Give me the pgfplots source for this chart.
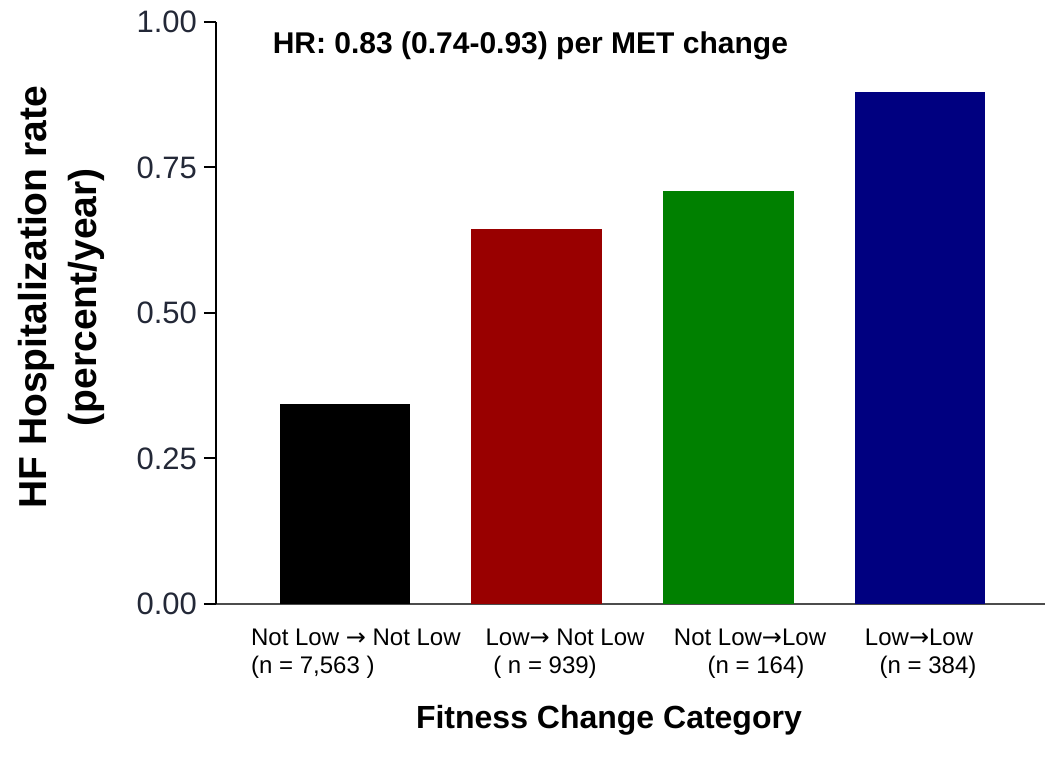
\documentclass[border=0pt]{standalone}
\usepackage{fontspec}
\setmainfont{Liberation Sans}
\newfontfamily\arrowfont{DejaVu Sans}
\newcommand{\ra}{{\arrowfont →}}
\usepackage{pgfplots}
\pgfplotsset{compat=1.18}

\definecolor{barred}{HTML}{990000}
\definecolor{bargreen}{HTML}{008000}
\definecolor{barblue}{HTML}{000080}
\definecolor{ticktext}{RGB}{35,40,55}

\begin{document}
\begin{tikzpicture}
% page = 1050x760 px at 0.5pt per px, axis box origin at px (216,604)
\useasboundingbox (-108pt,-78pt) rectangle (417pt,302pt);
\begin{axis}[
    scale only axis,
    width=414.5pt,
    height=291pt,
    xmin=-0.673, xmax=3.652,
    ymin=0, ymax=1,
    axis lines=left,
    axis line style={-},
    x axis line style={line width=1.4pt, draw=black!70},
    y axis line style={line width=1pt, draw=black},
    ytick={0,0.25,0.5,0.75,1},
    yticklabel style={
        /pgf/number format/fixed,
        /pgf/number format/precision=2,
        /pgf/number format/fixed zerofill,
        /pgf/number format/assume math mode=true,
        font=\fontsize{15.5}{18}\selectfont,
        text=ticktext
    },
    tick align=outside,
    major tick length=6pt,
    ytick style={line width=1pt, black},
    xtick={0.057,1.148,2.113,2.995},
    xtick style={draw=none},
    xticklabels={
        {Not Low \ra{} Not Low\\(n = 7,563 )\hspace*{43pt}},
        {Low\ra{} Not Low\\( n = 939)\hspace*{20pt}},
        {Not Low\ra{}Low\\\hspace*{6pt}(n = 164)},
        {Low\ra{}Low\\\hspace*{9pt}(n = 384)}
    },
    xticklabel style={align=center, font=\fontsize{12}{14}\selectfont, yshift=-3pt},
    xlabel={Fitness Change Category},
    xlabel style={font=\fontsize{16}{19}\selectfont\bfseries,
        at={(axis description cs:0.474,-0.199)}, anchor=center},
    ylabel={HF Hospitalization rate\\(percent/year)},
    ylabel style={font=\fontsize{19.5}{25}\selectfont\bfseries, align=center,
        at={(axis description cs:-0.187,0.527)}, anchor=center},
    bar width=0.683,
    clip=false,
]
\addplot[ybar, fill=black, draw=none] coordinates {(0,0.344)};
\addplot[ybar, fill=barred, draw=none] coordinates {(1,0.644)};
\addplot[ybar, fill=bargreen, draw=none] coordinates {(2,0.710)};
\addplot[ybar, fill=barblue, draw=none] coordinates {(3,0.880)};
\node[anchor=west, font=\fontsize{15}{18}\selectfont\bfseries]
    at (axis description cs:0.060,0.959) {HR: 0.83 (0.74-0.93) per MET change};
\end{axis}
\end{tikzpicture}
\end{document}
